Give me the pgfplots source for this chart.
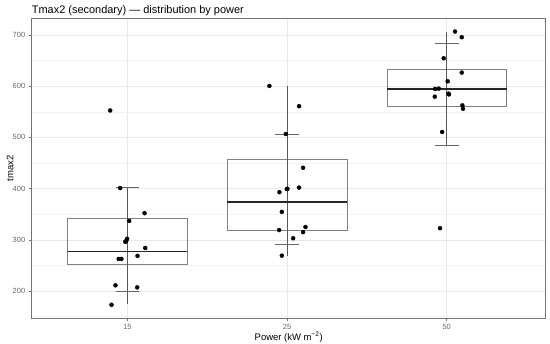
\documentclass[border=0pt]{standalone}
\usepackage{fontspec}
\setmainfont{Liberation Sans}
\usepackage{pgfplots}
\pgfplotsset{compat=1.18}
\begin{document}
\begin{tikzpicture}
\path[use as bounding box] (0,0) rectangle (550bp,344bp);
\begin{axis}[
  at={(31.7bp,26bp)}, anchor=south west,
  scale only axis, width=514bp, height=299.3bp,
  xmin=-0.6, xmax=2.62, ymin=147.2, ymax=731.9,
  clip=false,
  xtick={0,1,2}, xticklabels={15,25,50},
  ytick={200,300,400,500,600,700},
  minor ytick={150,250,350,450,550,650,750},
  grid=both,
  major grid style={color=black!9, line width=0.5bp},
  minor grid style={color=black!5, line width=0.35bp},
  axis line style={color=black!55, line width=0.6bp},
  tick align=outside, tick pos=left,
  major tick length=3bp, minor tick length=0pt,
  tick style={color=black!55, line width=0.5bp},
  ticklabel style={font=\fontsize{7.5}{9}\selectfont, text=black!60},
  /pgf/number format/assume math mode=true,
  xlabel={Power (kW m\textsuperscript{−2})},
  ylabel={tmax2},
  xlabel style={at={(axis description cs:0.5,-0.0635)}, anchor=center, font=\fontsize{9.5}{11}\selectfont},
  ylabel style={at={(axis description cs:-0.0422,0.5)}, anchor=center, font=\fontsize{9.5}{11}\selectfont},
]
% group 1
\addplot[draw=black!50, line width=0.6bp] coordinates {(-0.375,251.5) (0.375,251.5) (0.375,341.5) (-0.375,341.5) (-0.375,251.5)};
\addplot[draw=black!65, line width=0.6bp] coordinates {(0,174.6) (0,403)};
\addplot[draw=black!60, line width=0.6bp] coordinates {(-0.075,403) (0.075,403)};
\addplot[draw=black!60, line width=0.6bp] coordinates {(-0.075,200) (0.075,200)};
\addplot[draw=black!85, line width=1.4bp] coordinates {(-0.375,277) (0.375,277)};
% group 2
\addplot[draw=black!50, line width=0.6bp] coordinates {(0.625,318.8) (1.375,318.8) (1.375,457) (0.625,457) (0.625,318.8)};
\addplot[draw=black!65, line width=0.6bp] coordinates {(1,269) (1,600)};
\addplot[draw=black!60, line width=0.6bp] coordinates {(0.925,506.6) (1.075,506.6)};
\addplot[draw=black!60, line width=0.6bp] coordinates {(0.925,292) (1.075,292)};
\addplot[draw=black!85, line width=1.4bp] coordinates {(0.625,374) (1.375,374)};
% group 3
\addplot[draw=black!50, line width=0.6bp] coordinates {(1.625,560) (2.375,560) (2.375,632.5) (1.625,632.5) (1.625,560)};
\addplot[draw=black!65, line width=0.6bp] coordinates {(2,484) (2,706)};
\addplot[draw=black!60, line width=0.6bp] coordinates {(1.925,684.7) (2.075,684.7)};
\addplot[draw=black!60, line width=0.6bp] coordinates {(1.925,484) (2.075,484)};
\addplot[draw=black!85, line width=1.4bp] coordinates {(1.625,594.7) (2.375,594.7)};
% points
\addplot[only marks, mark=*, mark size=2bp, black] coordinates {
(-0.046,401) (0.107,352) (0.011,337) (-0.002,302) (-0.008,298) (-0.014,296) (0.111,284)
(0.063,268.5) (-0.055,262.6) (-0.038,262.6) (-0.075,211) (0.061,207) (-0.1,173) (-0.108,552.6)
(0.889,600.5) (1.075,561) (0.992,506.6) (1.1,440.7) (1.002,399.6) (0.998,399) (1.075,402)
(0.952,393) (0.967,354.6) (1.115,325) (0.95,319) (1.1,315) (1.038,303) (0.967,269)
(2.052,706.8) (2.094,695.7) (1.981,654.6) (2.094,626.6) (2.006,609.6) (1.927,594.7) (1.95,595.3)
(1.925,579.6) (2.011,585.5) (2.014,584) (2.098,562.6) (2.102,556) (1.971,510.6) (1.958,322.7)
};
\node[anchor=base west, inner sep=0pt, font=\fontsize{11}{13}\selectfont] at (rel axis cs:0,1.0167) {Tmax2 (secondary) — distribution by power};
\end{axis}
\end{tikzpicture}
\end{document}
